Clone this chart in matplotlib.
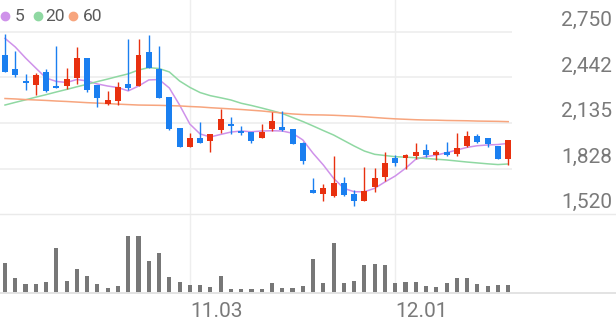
import matplotlib
matplotlib.use('Agg')
import matplotlib.pyplot as plt
from matplotlib.lines import Line2D
from matplotlib.transforms import blended_transform_factory, offset_copy

# daily candles (price), oldest first
opens = [2593, 2497, 2420, 2391, 2481, 2386, 2386, 2436, 2571, 2391,
         2265, 2283, 2398, 2386, 2615, 2497, 2312, 2099, 1975, 2032,
         2014, 2088, 2130, 2081, 2072, 2032, 2095, 2108, 2093, 1998,
         1686, 1657, 1643, 1733, 1657, 1610, 1706, 1773, 1901, 1897,
         1913, 1953, 1919, 1942, 1924, 1980, 2047, 2032, 1980, 1890]
highs = [2735, 2620, 2463, 2470, 2497, 2654, 2507, 2649, 2571, 2391,
         2353, 2409, 2701, 2701, 2728, 2654, 2312, 2099, 2070, 2140,
         2059, 2229, 2177, 2117, 2072, 2126, 2207, 2216, 2093, 2005,
         1767, 1722, 1916, 1773, 1684, 1841, 1834, 1938, 1919, 1924,
         1998, 1992, 1953, 2009, 2070, 2081, 2061, 2032, 1980, 2020]
lows = [2476, 2447, 2357, 2324, 2346, 2369, 2364, 2396, 2346, 2245,
        2256, 2256, 2357, 2386, 2503, 2301, 2088, 1975, 1975, 1998,
        1938, 2066, 2059, 2054, 1998, 2032, 2081, 2081, 1992, 1857,
        1661, 1610, 1637, 1643, 1578, 1610, 1668, 1744, 1847, 1823,
        1890, 1904, 1886, 1913, 1913, 1971, 1998, 1971, 1895, 1852]
closes = [2476, 2458, 2406, 2458, 2351, 2373, 2431, 2571, 2357, 2301,
          2288, 2377, 2369, 2593, 2503, 2305, 2093, 1975, 2032, 1998,
          2059, 2160, 2117, 2068, 2014, 2072, 2148, 2086, 1996, 1879,
          1665, 1695, 1733, 1648, 1612, 1677, 1767, 1864, 1864, 1919,
          1942, 1919, 1942, 1919, 1969, 2047, 2009, 1992, 1895, 2020]

# moving averages
ma5 = [2705, 2647, 2573, 2505, 2438, 2415, 2408, 2428, 2418, 2398,
       2384, 2374, 2351, 2384, 2425, 2428, 2371, 2256, 2128, 2061,
       2041, 2058, 2074, 2081, 2076, 2081, 2083, 2081, 2066, 2021,
       1931, 1852, 1762, 1695, 1672, 1672, 1695, 1738, 1778, 1830,
       1891, 1908, 1919, 1935, 1953, 1971, 1982, 1987, 1990, 1998]
ma20 = [2256, 2274, 2291, 2309, 2326, 2344, 2361, 2379, 2396, 2414,
        2431, 2449, 2466, 2492, 2508, 2502, 2479, 2418, 2375, 2340,
        2319, 2305, 2290, 2268, 2253, 2236, 2218, 2199, 2172, 2145,
        2115, 2084, 2054, 2017, 1980, 1946, 1924, 1916, 1908, 1905,
        1901, 1896, 1891, 1886, 1879, 1872, 1866, 1860, 1855, 1859]
ma60 = [2300, 2297, 2293, 2290, 2287, 2283, 2280, 2276, 2272, 2269,
        2266, 2262, 2259, 2256, 2255, 2254, 2252, 2250, 2246, 2243,
        2238, 2234, 2230, 2226, 2221, 2216, 2209, 2202, 2196, 2192,
        2190, 2189, 2187, 2184, 2181, 2177, 2172, 2167, 2163, 2160,
        2157, 2155, 2154, 2152, 2151, 2150, 2148, 2147, 2146, 2144]

volumes = [300000, 150000, 93000, 93000, 117000, 457000, 127000, 240000, 173000, 93000,
           57000, 73000, 573000, 577000, 327000, 400000, 167000, 117000, 83000, 83000,
           60000, 173000, 40000, 43000, 43000, 40000, 100000, 50000, 50000, 73000,
           340000, 100000, 507000, 100000, 127000, 283000, 290000, 280000, 103000, 110000,
           117000, 70000, 60000, 103000, 150000, 150000, 93000, 70000, 80000, 87000]

price_ticks = [1520, 1828, 2135, 2442, 2750]
date_idx = [18, 38]
date_labels = ['11.03', '12.01']

ma_names = ['5', '20', '60']
ma_colors = ['#cf92ea', '#8fd8a2', '#f7a57e']
up_color = '#e8300f'
down_color = '#1a7ff0'

W, H = 616, 321
fig = plt.figure(figsize=(W / 100, H / 100), dpi=100)
plt.rcParams['font.family'] = ['Roboto', 'DejaVu Sans']


def fy(py):
    return 1 - py / H


n = len(closes)
idx = list(range(n))
x_left, x_right = -0.487, 49.37
plot_w = 512 / W

# price panel
ax = fig.add_axes([0, fy(214.3), plot_w, 214.3 / H])
ax.set_xlim(x_left, x_right)
ppx = (214.3 - 31.7) / (2750 - 1520)
ax.set_ylim(1520, 2750 + 31.7 / ppx)
ax.axis('off')

for v in price_ticks[1:]:
    ax.axhline(v, color='#eeeeee', lw=1.2, zorder=0)
for d in date_idx:
    ax.axvline(d, color='#eeeeee', lw=1.0, zorder=0)

for i, c in enumerate(ma_colors):
    ax.plot(idx, [ma5, ma20, ma60][i], color=c, lw=1.1, zorder=2)

cols = [up_color if c >= o else down_color for o, c in zip(opens, closes)]
ax.vlines(idx, lows, highs, colors=cols, lw=1.0, zorder=3)
bottoms = [min(o, c) for o, c in zip(opens, closes)]
heights = [max(abs(c - o), 12) for o, c in zip(opens, closes)]
ax.bar(idx, heights, bottom=bottoms, width=0.58, color=cols, zorder=4)

trans = offset_copy(blended_transform_factory(fig.transFigure, ax.transData),
                    fig=fig, y=6, units='dots')
for v in price_ticks:
    ax.text(612 / W, v, f'{v:,}', transform=trans, ha='right', va='baseline',
            fontsize=15, color='#7a7a7a', clip_on=False)

# volume panel
axv = fig.add_axes([0, fy(293.3), plot_w, 79 / H])
axv.set_xlim(x_left, x_right)
axv.set_ylim(0, 790000)
axv.axis('off')
for d in date_idx:
    axv.axvline(d, color='#eeeeee', lw=1.0, zorder=0)
axv.bar(idx, volumes, width=0.4, color='#777777', zorder=3)

tr_date = blended_transform_factory(axv.transData, fig.transFigure)
for d, lab in zip(date_idx, date_labels):
    axv.text(d, fy(316.7), lab, transform=tr_date, ha='left', va='baseline',
             fontsize=15, color='#7a7a7a', clip_on=False)

# full-width separators
fig.add_artist(Line2D([0, 1], [fy(214.3)] * 2, transform=fig.transFigure,
                      color='#eaeaea', lw=1.0))
fig.add_artist(Line2D([0, 1], [fy(293.3)] * 2, transform=fig.transFigure,
                      color='#e3e3e3', lw=1.4))

# legend
leg_dot_x = [5, 37.7, 73.3]
leg_txt_x = [15, 45.5, 82.5]
for name, c, dx, tx in zip(ma_names, ma_colors, leg_dot_x, leg_txt_x):
    fig.add_artist(Line2D([dx / W], [fy(15.7)], transform=fig.transFigure,
                          marker='o', markersize=6, color=c, ls=''))
    fig.text(tx / W, fy(20.9), name, ha='left', va='baseline', fontsize=12.5,
             color='#5a5a5a')

fig.savefig('out.png', dpi=100)
